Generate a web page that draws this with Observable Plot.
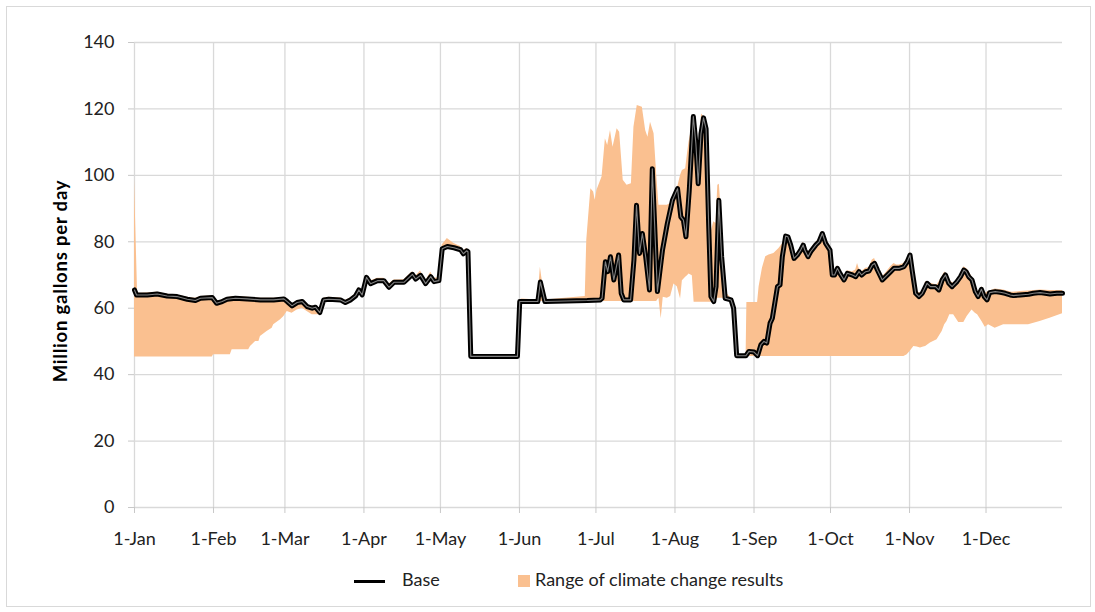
<!DOCTYPE html>
<html>
<head>
<meta charset="utf-8">
<script src="https://cdn.jsdelivr.net/npm/d3@7"></script>
<script src="https://cdn.jsdelivr.net/npm/@observablehq/plot@0.6"></script>
<style>
  html, body { margin: 0; padding: 0; background: #fff; }
  #wrap { position: relative; width: 1095px; height: 612px; font-family: Lato, "Open Sans", sans-serif; color: #222; }
  #frame { position: absolute; left: 6px; top: 6px; width: 1085px; height: 601px; border: 1px solid #d9d9d9; box-sizing: border-box; }
  #chart { position: absolute; left: 0; top: 0; }
  #ytitle { position: absolute; left: 60px; top: 281px; transform: translate(-50%, -50%) rotate(-90deg); white-space: nowrap; font-weight: bold; font-size: 18.5px; letter-spacing: 0.8px; color: #000; }
  #legend { position: absolute; top: 568px; left: 0; width: 1095px; height: 24px; font-size: 18px; }
  .lg-line { position: absolute; left: 354px; top: 12px; width: 31px; height: 3px; background: #000; }
  .lg-base { position: absolute; left: 402px; top: 0px; }
  .lg-sq { position: absolute; left: 518px; top: 7px; width: 12px; height: 12px; background: #FAC090; }
  .lg-range { position: absolute; left: 535px; top: 0px; }
</style>
</head>
<body>
<div id="wrap">
  <div id="frame"></div>
  <div id="chart"></div>
  <div id="ytitle"></div>
  <div id="legend"></div>
</div>
<script>
// ---- Data (day offset from 1-Jan) ----
const monthStartDays = [0, 31, 59, 90, 120, 151, 181, 212, 243, 273, 304, 334];
const monthLabels = ["1-Jan","1-Feb","1-Mar","1-Apr","1-May","1-Jun","1-Jul","1-Aug","1-Sep","1-Oct","1-Nov","1-Dec"];
const yTicks = [0, 20, 40, 60, 80, 100, 120, 140];
const yTitle = "Million gallons per day";
const seriesBase = "Base";
const seriesRange = "Range of climate change results";

const baseDay = [0,0.8,5,8.9,12.8,16.7,20.7,23.9,25.9,30.5,32.2,34.4,36.3,39.6,44.2,49.4,54.6,58.6,59.9,61.8,63.8,65.8,67.7,69.7,71,72.7,74.2,76.2,80.8,82.7,84.7,86.7,88,89.3,91,92.6,95.3,97.8,99.8,101.8,105.7,109,110.3,112.2,114.2,116.2,117.5,119.4,120.7,122.7,125.3,127.9,129,130.3,130.8,131.9,150.2,151.1,158.2,159.2,161,177.6,182.7,183.4,184.7,185.6,186.7,188,189.9,190.9,191.9,194.6,195.9,196.9,198.1,199.2,200.5,202,203.1,204,205.1,207.1,209,211,213,214.3,215.3,216.3,217.6,219.2,220.2,221.1,222.2,223.2,224.2,225.2,226.1,227.2,228.1,229.2,230.3,231.7,234,235,236.2,239.8,241,243,244.4,245.7,246.9,248,249.3,250.2,252.2,253.2,254.1,255.4,256.3,257.4,258.7,260,261.3,262.3,262.9,264.2,265.2,267.2,268.5,269.8,271.1,272.8,273.7,274.6,275.7,276.7,278.3,279.6,281.6,282.9,284.2,285.2,286.8,288.1,289.4,290.3,291.4,293.3,294.6,296.6,297.9,299.9,301.8,303.1,304.2,305.1,306.4,307.7,309,310.9,312.2,314.2,315.5,316.8,318.1,319.4,320.7,322.6,324,325.3,326.2,327.2,328.5,329.8,330.9,332.2,333.3,334.4,335.4,337.6,339.6,341.5,343.5,344.8,347.4,350.7,352.6,355.2,357.2,359.1,361.8,364];
const baseValue = [65.5,64,64,64.3,63.7,63.5,62.7,62.3,63,63.2,61.5,62,62.7,63,62.8,62.5,62.5,62.8,62,60.7,61.7,62,60.5,60,60.3,58.7,62.5,62.7,62.5,61.7,62.5,63.7,65.5,64,69.3,67.4,68.3,68.3,66.3,67.8,67.8,70.2,68.8,69.9,67.4,69.5,68,68.3,77.9,78.6,78.2,77.6,76.4,77.3,77,45.5,45.5,62,62,67.9,62,62.3,62.5,63,74,71,75.5,68.5,76,64.5,62.5,62.5,74.5,91,76.5,82.5,75.5,65.5,102,85.5,65,77.5,85.5,92.5,96,87.5,86.5,81.5,95.5,117.7,109.5,97.5,112.5,117.3,114,85.5,63.5,62,66.5,92.5,75.5,63,62.5,60,45.7,45.7,47,46.8,45.7,49,50,49.5,55.5,57,66.5,67,75.5,81.7,81.5,79,75,76,77.5,79,77.5,75.5,77,79,80,82.5,79.5,77.5,70,70,72,70.5,68.5,70.5,70,69.5,71,70,71,71.2,73,73.5,71.5,68.5,69.5,71,72,72,72.5,74,76,71,64.5,63.5,64.5,67.5,66.5,66.5,65.5,68.5,70,67.5,66.5,68,69.5,71.5,71,69.5,68.5,65,63.5,65.7,63.5,62.5,64.7,65,64.8,64.5,64,63.8,64,64.2,64.5,64.7,64.5,64.3,64.5,64.5];

const bandDay = [0,1.2,3,8.9,12.8,16.7,20.7,23.9,25.9,30.5,31,32.2,34.4,36.3,37.6,38.3,44.8,45.5,47.5,48.8,49.4,52,54,54.6,57.3,58.6,59.9,61.8,63.8,65.8,67.7,69.7,71,72.7,74.2,76.2,80.8,82.7,84.7,86.7,88,89.3,91,92.6,95.3,97.8,99.8,101.8,105.7,109,110.3,112.2,114.2,116.2,117.5,119.4,120.7,122.7,125.3,127.9,129,130.3,130.8,131.9,150.2,151.1,152,158.2,159.2,161,176.8,177.4,179,180.1,180.7,181.4,183.4,184.7,185.6,186.7,187.7,189.3,190.3,191.7,193.2,194.9,195.9,197.2,199.2,200.5,201.4,202.4,203.8,204.8,205.7,206.6,207.4,209,210.3,211.6,212.9,214.2,214.9,216.2,216.9,217.5,218.8,219.5,220.2,221.1,222.4,223.5,224.6,225.5,226.1,227.2,228.1,228.8,229.4,230.7,231.3,234,235,236.3,239.9,240.2,243,244.4,245,246.3,247.6,248.9,250.8,252.8,254.8,255.4,256.3,257.4,258.7,260,261.3,262.3,264.2,265.2,267.2,268.5,269.8,271.1,272.8,273.7,274.6,275.7,276.7,278.3,279.6,281.6,282.9,283.6,284.2,285.2,286.8,288.1,289.4,290.3,291.4,293.3,294.6,296.6,297.9,299,299.9,301.8,303.1,304.2,305.7,307,308.3,309.5,310.3,312.2,314.8,316.8,317.8,318.7,319.8,321.3,323.3,325.3,326.6,328.5,329.8,330.7,332.4,333.7,335,337.6,340.9,344.2,347.4,350.7,355.2,359.1,364];
const bandLow = [45.3,45.3,45.3,45.3,45.3,45.3,45.3,45.3,45.3,45.3,46,46,46,46,46,47.5,47.5,48.5,50,50,51.5,53,54,55,56.5,57.5,59,58.5,59.5,60,59,58,58,58,62,62.2,62,61.2,62,63.2,65,63.5,68.7,66.8,67.7,67.7,65.7,67.2,67.2,69.6,68.2,69.3,66.8,68.9,67.4,67.7,77.3,78,77.6,77,75.8,76.7,76.4,45.5,45.5,62,62,62,62,62,62,62,62,62,62,62,62,62,62,62,62,62,62,62,62,62,62,62,62,62,62,62,62,62,63,56.8,63.3,63,63.5,67.3,66.5,62.8,68.3,69.3,69.8,70.3,69.8,61.8,61.8,61.8,61.8,61.8,61.8,61.8,61.8,61.8,62,63,63,63,62.5,62,59.5,45.5,45.5,45.5,45.5,45.5,45.5,45.5,45.5,45.5,45.5,45.5,45.5,45.5,45.5,45.5,45.5,45.5,45.5,45.5,45.5,45.5,45.5,45.5,45.5,45.5,45.5,45.5,45.5,45.5,45.5,45.5,45.5,45.5,45.5,45.5,45.5,45.5,45.5,45.5,45.5,45.5,45.5,45.5,45.5,45.5,45.5,45.5,45.5,45.5,46,47,48.5,48.3,48,48.3,48.5,49.5,50.5,53,55,56,58,58,55.7,55.7,57.5,59.5,58.5,58,56,54.3,55,54,55,55,55,55,56,57,58.3,59,60];
const bandHigh = [99,64.5,64.5,64.8,64.2,64,63.3,63,63.5,63.7,63.3,62,62.5,63.2,63.3,63.5,63.3,63.2,63.1,63,63,63,63,63,63.1,63.3,62.5,61.2,62.2,62.5,61,60.5,60.8,59.2,63,63.3,63.1,62.3,63.1,64.3,66.2,64.6,70,68.2,69,69,67.3,68.5,68.6,71,69.6,71.2,68.2,70.8,69,69.2,79,81,79.5,78.6,77.2,78,77.5,45.5,45.5,62.5,62.8,62.5,72.3,62.5,63.5,80.5,96,95,92.5,95.5,99.5,111,109,113.5,108.5,114,113,98.5,97,97.5,114.5,121,120.5,113.5,111.5,116,112.5,100.5,91,91,91,91,91.5,93.8,96,100,101.5,102,106.5,110,115,118,110,99.5,118.5,117.5,113.5,85.5,82.5,86,85.5,97,97.3,83.3,65.3,63,61.5,46,46,61.7,61.7,61.7,66.5,72,75.5,76,76.5,78,80,82.3,82,79.6,75.8,76.8,78.3,79.8,76.3,77.8,79.8,80.8,83.2,80.3,78.3,70.8,71,72.8,71.3,69.5,71.3,71,71.5,73.5,72,71,72,72.2,74.5,75,72.5,69.5,70.5,72.5,73.5,73,73,73.5,75,76.8,72,65,64.5,65.5,68,67.5,67,69.5,71,69.5,68.3,67.5,69,72.5,71.8,69.5,66,64.5,66.5,64.5,65,65.8,65.5,64.8,65,65.2,65.5,65.3,65.3];

// ---- Build tables ----
const baseRows = baseDay.map((d, i) => ({day: d, value: baseValue[i]}));
const bandRows = bandDay.map((d, i) => ({day: d, low: bandLow[i], high: bandHigh[i]}));

const FONT = "Lato, 'Open Sans', sans-serif";
const fmtMonth = d => monthLabels[monthStartDays.indexOf(d)];

const chart = Plot.plot({
  width: 1095,
  height: 556,
  marginLeft: 134,
  marginRight: 33,
  marginTop: 42,
  marginBottom: 49,
  style: {fontFamily: FONT, fontSize: "18px", color: "#222", background: "transparent"},
  x: {type: "linear", domain: [0, 364]},
  y: {domain: [0, 140]},
  marks: [
    Plot.gridY(yTicks, {stroke: "#d9d9d9", strokeOpacity: 1, strokeWidth: 1.3}),
    Plot.gridX(monthStartDays, {stroke: "#d9d9d9", strokeOpacity: 1, strokeWidth: 1.3}),
    Plot.areaY(bandRows, {x: "day", y1: "low", y2: "high", fill: "#FAC090", curve: "linear"}),
    Plot.line(baseRows, {x: "day", y: "value", stroke: "#000", strokeWidth: 5, strokeLinejoin: "round", curve: "linear"}),
    Plot.line(baseRows, {x: "day", y: "value", stroke: "#fff", strokeOpacity: 0.5, strokeWidth: 1.1, strokeLinejoin: "round", curve: "linear"}),
    Plot.axisY({ticks: yTicks, tickSize: 6, tickPadding: 14, stroke: "#c8c8c8", label: null, fontSize: 18, fill: "#222"}),
    Plot.axisX({ticks: monthStartDays, tickFormat: fmtMonth, tickSize: 6, tickPadding: 19, stroke: "#c8c8c8", label: null, fontSize: 18, fill: "#222"})
  ]
});
document.getElementById("chart").appendChild(chart);
document.getElementById("ytitle").textContent = yTitle;

const legend = document.getElementById("legend");
legend.innerHTML = `<div class="lg-line"></div><div class="lg-base">${seriesBase}</div><div class="lg-sq"></div><div class="lg-range">${seriesRange}</div>`;
</script>
</body>
</html>
